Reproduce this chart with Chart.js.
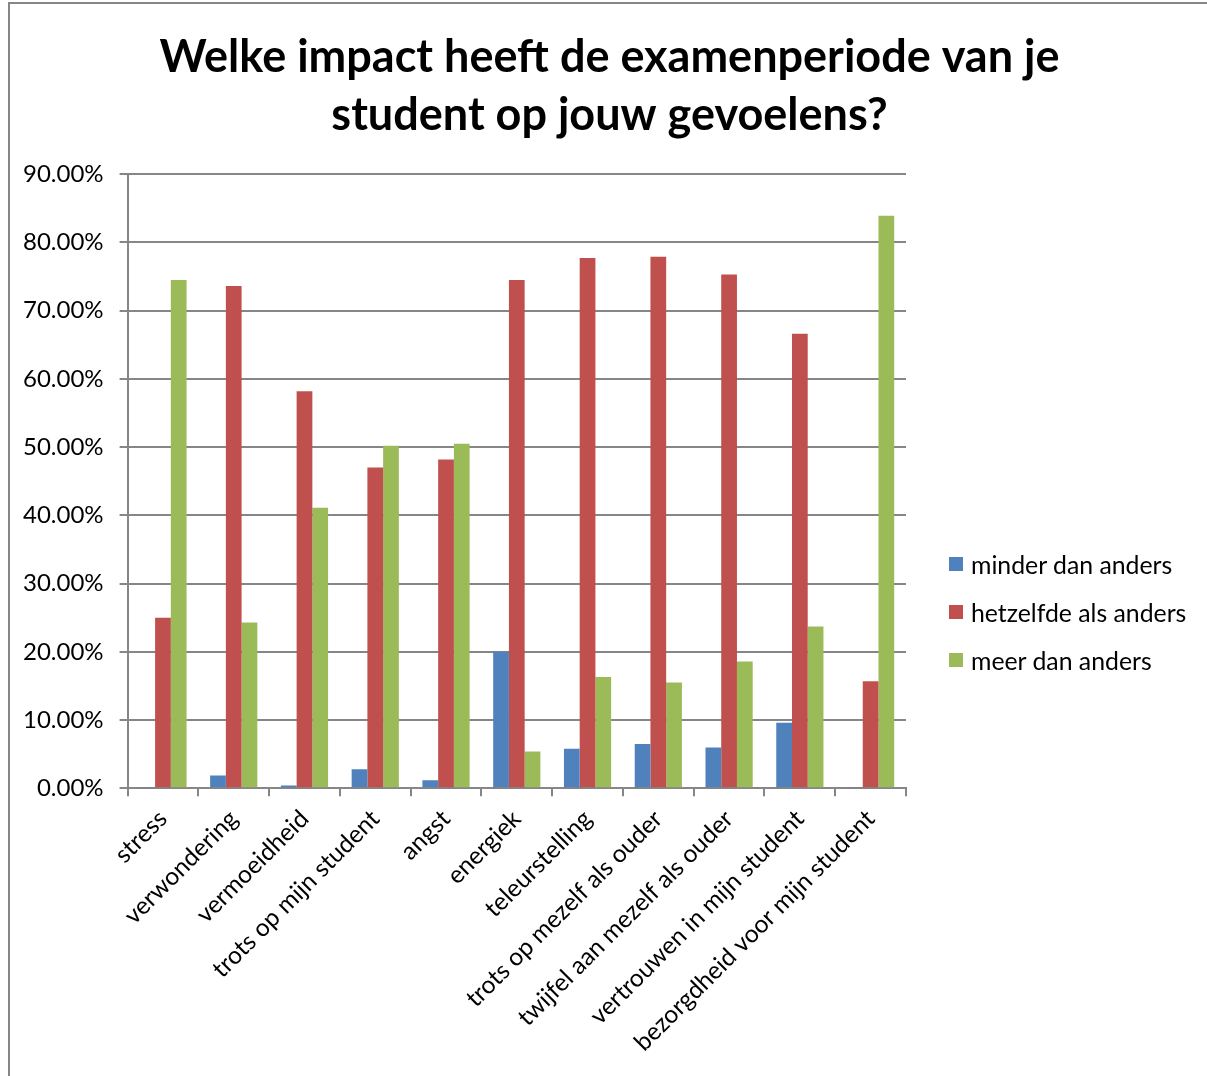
<!DOCTYPE html>
<html>
<head>
<meta charset="utf-8">
<script src="https://cdn.jsdelivr.net/npm/chart.js@4.4.1/dist/chart.umd.min.js"></script>
<style>
  html, body { margin: 0; padding: 0; background: #fff; overflow: hidden; }
  body { width: 1207px; height: 1076px; position: relative; font-family: Lato, "Open Sans", sans-serif; }
  #frame { position: absolute; left: 8px; top: 2px; width: 1300px; height: 1200px; border: 2px solid #868686; pointer-events: none; }
  #wrap { position: absolute; left: 7px; top: 0; width: 1205px; height: 1076px; }
  #legend { position: absolute; left: 949px; top: 540px; font-size: 24.8px; color: #000; }
  #legend .row { height: 48px; display: flex; align-items: center; white-space: nowrap; }
  #legend .sw { width: 14px; height: 14px; margin-right: 8px; }
</style>
</head>
<body>
<div id="wrap"><canvas id="myChart" width="1205" height="1076"></canvas></div>
<div id="frame"></div>
<div id="legend"></div>
<script>
// categorieën en percentages per antwoord
var gevoelens = ['stress', 'verwondering', 'vermoeidheid', 'trots op mijn student', 'angst', 'energiek',
    'teleurstelling', 'trots op mezelf als ouder', 'twijfel aan mezelf als ouder',
    'vertrouwen in mijn student', 'bezorgdheid voor mijn student'];
var minderArray = [0.2, 1.9, 0.4, 2.8, 1.2, 20.0, 5.8, 6.5, 6.0, 9.6, 0.2];
var hetzelfdeArray = [25.0, 73.6, 58.2, 47.0, 48.2, 74.5, 77.7, 77.9, 75.3, 66.6, 15.7];
var meerArray = [74.5, 24.3, 41.1, 50.2, 50.5, 5.4, 16.3, 15.5, 18.6, 23.7, 83.9];
var reeksen = ['minder dan anders', 'hetzelfde als anders', 'meer dan anders'];
var kleuren = ['#4F81BD', '#C0504D', '#9BBB59'];
var titel = ['Welke impact heeft de examenperiode van je', 'student op jouw gevoelens?'];

Chart.defaults.font.family = 'Lato, "Open Sans", sans-serif';
Chart.defaults.color = '#000';

const ctx = document.getElementById('myChart');
var grafiek = new Chart(ctx, {
    type: 'bar',
    data: {
        labels: gevoelens,
        datasets: [
            { label: reeksen[0], data: minderArray, backgroundColor: kleuren[0] },
            { label: reeksen[1], data: hetzelfdeArray, backgroundColor: kleuren[1] },
            { label: reeksen[2], data: meerArray, backgroundColor: kleuren[2] }
        ]
    },
    options: {
        responsive: false,
        animation: false,
        maintainAspectRatio: false,
        datasets: { bar: { barPercentage: 1, categoryPercentage: 0.667 } },
        layout: { padding: { left: 0, right: 0, top: 28, bottom: 11 } },
        plugins: {
            legend: { display: false },
            tooltip: { enabled: false },
            title: {
                display: true,
                text: titel,
                font: { size: 45, weight: 'bold', lineHeight: 1.29 },
                padding: { top: 0, bottom: 30 },
                color: '#000'
            }
        },
        scales: {
            x: {
                grid: { drawOnChartArea: false, drawTicks: true, tickLength: 8, color: '#868686', lineWidth: 2 },
                border: { color: '#868686', width: 2 },
                ticks: { maxRotation: 45, minRotation: 45, autoSkip: false, font: { size: 24.5 }, padding: 8 }
            },
            y: {
                beginAtZero: true,
                min: 0,
                max: 90,
                grid: { color: '#868686', lineWidth: 2, tickLength: 8 },
                border: { color: '#868686', width: 2 },
                ticks: {
                    stepSize: 10,
                    font: { size: 24 },
                    padding: 16,
                    callback: function (v) { return v.toFixed(2) + '%'; }
                }
            },
            // lege as rechts: ruimte voor de legenda, titel blijft over de hele breedte
            ruimte: {
                type: 'linear',
                position: 'right',
                grid: { display: false },
                border: { display: false },
                ticks: { display: false },
                afterFit: function (s) { s.width = 306; }
            }
        }
    }
});

// legenda rechts
var lg = document.getElementById('legend');
grafiek.data.datasets.forEach(function (ds) {
    var r = document.createElement('div');
    r.className = 'row';
    r.innerHTML = '<span class="sw" style="background:' + ds.backgroundColor + '"></span><span>' + ds.label + '</span>';
    lg.appendChild(r);
});
</script>
</body>
</html>
